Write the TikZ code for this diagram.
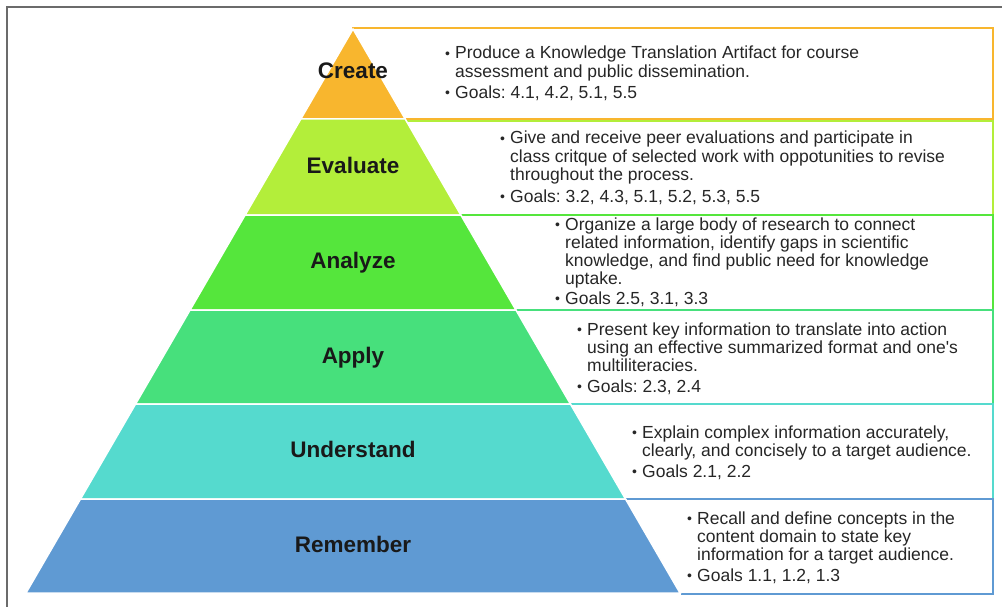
\documentclass[tikz,border=0pt]{standalone}
\usepackage{fontspec}
\setmainfont{Liberation Sans}
\definecolor{createcol}{HTML}{F8B62E}
\definecolor{evaluatecol}{HTML}{B3EE3A}
\definecolor{analyzecol}{HTML}{55E63C}
\definecolor{applycol}{HTML}{47E07C}
\definecolor{understandcol}{HTML}{55DACE}
\definecolor{remembercol}{HTML}{5F9AD3}
\definecolor{framegray}{HTML}{6B6B6B}
\newcommand{\bul}{{\fontsize{14}{14}\selectfont\raisebox{0.5pt}{\textbullet}}}
\tikzset{
  layer label/.style={anchor=base, inner sep=0pt, font=\fontsize{22.5}{26}\selectfont\bfseries, text=black!90},
  goal text/.style={anchor=base west, inner sep=0pt, font=\fontsize{17.5}{18}\selectfont\frenchspacing, text=black!85},
}
\begin{document}
\begin{tikzpicture}[x=1pt, y=-1pt]
\useasboundingbox (0,0) rectangle (1002,607);
\draw[framegray, line width=1.5pt] (7,607) -- (7,7) -- (1002,7);
% boxes behind the pyramid
\foreach \nm/\tp/\bt in {create/28/119, evaluate/121/215, analyze/215/310,
    apply/310/404, understand/404/499, remember/499/594}{
  \pgfmathsetmacro\dt{0.5798*(\tp-29)}
  \pgfmathsetmacro\db{0.5798*(\bt-29)}
  \draw[\nm col, line width=1.3pt]
    (353+\dt,\tp) -- (993,\tp) -- (993,\bt) -- (353+\db,\bt);
}
% pyramid layers
\foreach \nm/\tp/\bt in {create/29/119, evaluate/119/215, analyze/215/310,
    apply/310/404, understand/404/499, remember/499/593}{
  \pgfmathsetmacro\dt{0.5798*(\tp-29)}
  \pgfmathsetmacro\db{0.5798*(\bt-29)}
  \filldraw[fill=\nm col, draw=white, line width=1.5pt]
    (353-\dt,\tp) -- (353+\dt,\tp) -- (353+\db,\bt) -- (353-\db,\bt) -- cycle;
}
\node[layer label] (create) at (353,79) {Create};
\node[layer label] (evaluate) at (353,174) {Evaluate};
\node[layer label] (analyze) at (353,268) {Analyze};
\node[layer label] (apply) at (353,363) {Apply};
\node[layer label] (understand) at (353,457) {Understand};
\node[layer label] (remember) at (353,552) {Remember};

\node[goal text] (create-text) at (445,59) {\begin{tabular}[t]{@{}p{10pt}@{}l@{}}
  \bul & Produce a Knowledge Translation Artifact for course\\
       & assessment and public dissemination.\\[3pt]
  \bul & Goals: 4.1, 4.2, 5.1, 5.5
\end{tabular}};
\node[goal text] (evaluate-text) at (500,144) {\begin{tabular}[t]{@{}p{10pt}@{}l@{}}
  \bul & Give and receive peer evaluations and participate in\\
       & class critque of selected work with oppotunities to revise\\
       & throughout the process.\\[4pt]
  \bul & Goals: 3.2, 4.3, 5.1, 5.2, 5.3, 5.5
\end{tabular}};
\node[goal text] (analyze-text) at (555,230) {\begin{tabular}[t]{@{}p{10pt}@{}l@{}}
  \bul & Organize a large body of research to connect\\
       & related information, identify gaps in scientific\\
       & knowledge, and find public need for knowledge\\
       & uptake.\\[2pt]
  \bul & Goals 2.5, 3.1, 3.3
\end{tabular}};
\node[goal text] (apply-text) at (577,335) {\begin{tabular}[t]{@{}p{10pt}@{}l@{}}
  \bul & Present key information to translate into action\\
       & using an effective summarized format and one\textquotesingle s\\
       & multiliteracies.\\[3pt]
  \bul & Goals: 2.3, 2.4
\end{tabular}};
\node[goal text] (understand-text) at (632,438) {\begin{tabular}[t]{@{}p{10pt}@{}l@{}}
  \bul & Explain complex information accurately,\\
       & clearly, and concisely to a target audience.\\[3pt]
  \bul & Goals 2.1, 2.2
\end{tabular}};
\node[goal text] (remember-text) at (687,524) {\begin{tabular}[t]{@{}p{10pt}@{}l@{}}
  \bul & Recall and define concepts in the\\
       & content domain to state key\\
       & information for a target audience.\\[3pt]
  \bul & Goals 1.1, 1.2, 1.3
\end{tabular}};
\end{tikzpicture}
\end{document}
